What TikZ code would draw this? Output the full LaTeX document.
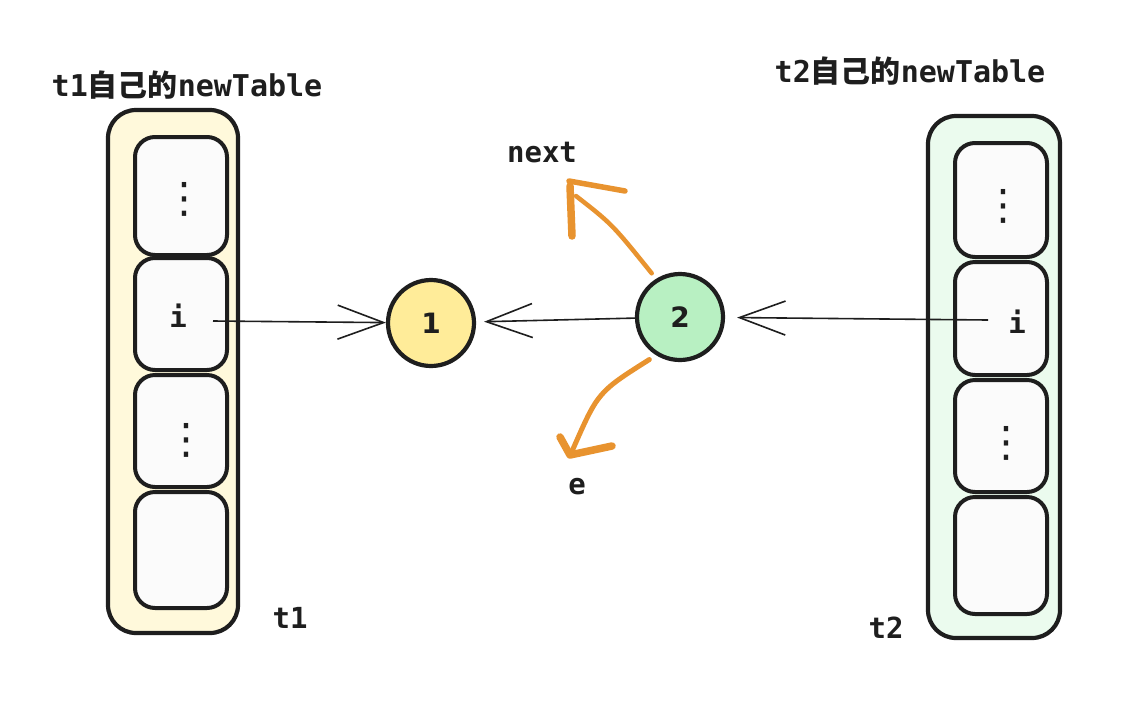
\documentclass[tikz,border=0pt]{standalone}
\usepackage{fontspec}
\newfontfamily\code{DejaVu Sans Mono}
\newfontfamily\cjk{Noto Sans CJK SC}
\newfontfamily\symf{DejaVu Sans}
\usetikzlibrary{arrows.meta,calc}
\definecolor{ink}{HTML}{1E1E1E}
\definecolor{creamfill}{HTML}{FFF9DB}
\definecolor{mintfill}{HTML}{EBFBEE}
\definecolor{cellfill}{HTML}{FBFBFB}
\definecolor{yelball}{HTML}{FFEC99}
\definecolor{grnball}{HTML}{B8F0C2}
\definecolor{orng}{HTML}{E8932F}
\begin{document}
\begin{tikzpicture}[x=1pt,y=-1pt,
  container/.style={draw=ink, line width=4.2pt, rounded corners=28pt, inner sep=0pt, minimum width=#1},
  cellbox/.style={draw=ink, line width=4pt, fill=cellfill, rounded corners=20pt, inner sep=0pt, minimum width=92pt, minimum height=#1},
  dotsym/.style={font=\symf\fontsize{42}{42}\selectfont, text=ink, inner sep=0pt},
  lbl/.style={font=\code\bfseries\fontsize{29}{29}\selectfont, text=ink, inner sep=0pt},
  ttl/.style={font=\bfseries\fontsize{30}{30}\selectfont, text=ink, inner sep=0pt},
  ball/.style={circle, draw=ink, line width=4.2pt, minimum size=86pt, inner sep=0pt, font=\symf\bfseries\fontsize{28}{28}\selectfont, text=ink},
  conn/.style={draw=ink, line width=1.6pt, -{Straight Barb[length=46pt,width=34pt]}},
  oshaft/.style={draw=orng, line width=4.5pt, line cap=round},
  obarb/.style={draw=orng, line width=7.5pt, line cap=round, line join=round}
]
\useasboundingbox (0,0) rectangle (1130,716);
\fill[white] (0,0) rectangle (1130,716);

% titles
\node[ttl] (title1) at (187,85) {{\code t1}{\cjk 自己的}{\code newTable}};
\node[ttl] (title2) at (910,71) {{\code t2}{\cjk 自己的}{\code newTable}};

% left table
\node[container=130pt, minimum height=523pt, fill=creamfill] (tbl1) at (173,371.5) {};
\node[cellbox=118pt] (l1) at (181,196) {};
\node[cellbox=112pt] (l2) at (181,314) {};
\node[cellbox=112pt] (l3) at (181,431) {};
\node[cellbox=116pt] (l4) at (181,550) {};
\node[dotsym] (ld1) at (184,199) {⋮};
\node[dotsym] (ld3) at (186,440) {⋮};
\node[lbl] (iL) at (178,316) {i};
\coordinate (iLout) at (213,321);
\node[lbl] (t1) at (290,618) {t1};

% right table
\node[container=132pt, minimum height=522pt, fill=mintfill] (tbl2) at (994,377) {};
\node[cellbox=114pt] (r1) at (1001,200) {};
\node[cellbox=113pt] (r2) at (1001,318.5) {};
\node[cellbox=112pt] (r3) at (1001,436) {};
\node[cellbox=117pt] (r4) at (1001,555.5) {};
\node[dotsym] (rd1) at (1003,206) {⋮};
\node[dotsym] (rd3) at (1006,443) {⋮};
\node[lbl] (iR) at (1017,322) {i};
\coordinate (iRout) at (988,320);
\node[lbl] (t2) at (886,628) {t2};

% entries
\node[ball, fill=yelball] (c1) at (431,323) {1};
\node[ball, fill=grnball] (c2) at (680,317) {2};

% black connectors
\draw[conn] (iLout) -- (c1);
\draw[conn, shorten >=8pt] (c2) -- (c1);
\draw[conn, shorten >=12pt] (iRout) -- (c2);

% orange arrows
\node[lbl] (nextlbl) at (542,153) {next};
\node[lbl] (elbl) at (577,487) {e};
\coordinate (nextTip) at (570,186);
\coordinate (eTip) at (570,455);
\draw[oshaft, shorten <=7pt] (c2.122) .. controls (612,224) .. ($(nextTip)+(6,10)$);
\draw[obarb] ($(nextTip)+(2,50)$) -- (nextTip);
\draw[oshaft, line width=5.5pt] ($(nextTip)+(-1,-5)$) -- ($(nextTip)+(55,5)$);
\draw[oshaft, line width=5pt, shorten <=8pt] (c2.238) .. controls (598,392) .. ($(eTip)+(3,-6)$);
\draw[obarb] ($(eTip)+(-10,-18)$) -- (eTip) -- ($(eTip)+(42,-9)$);
\end{tikzpicture}
\end{document}
